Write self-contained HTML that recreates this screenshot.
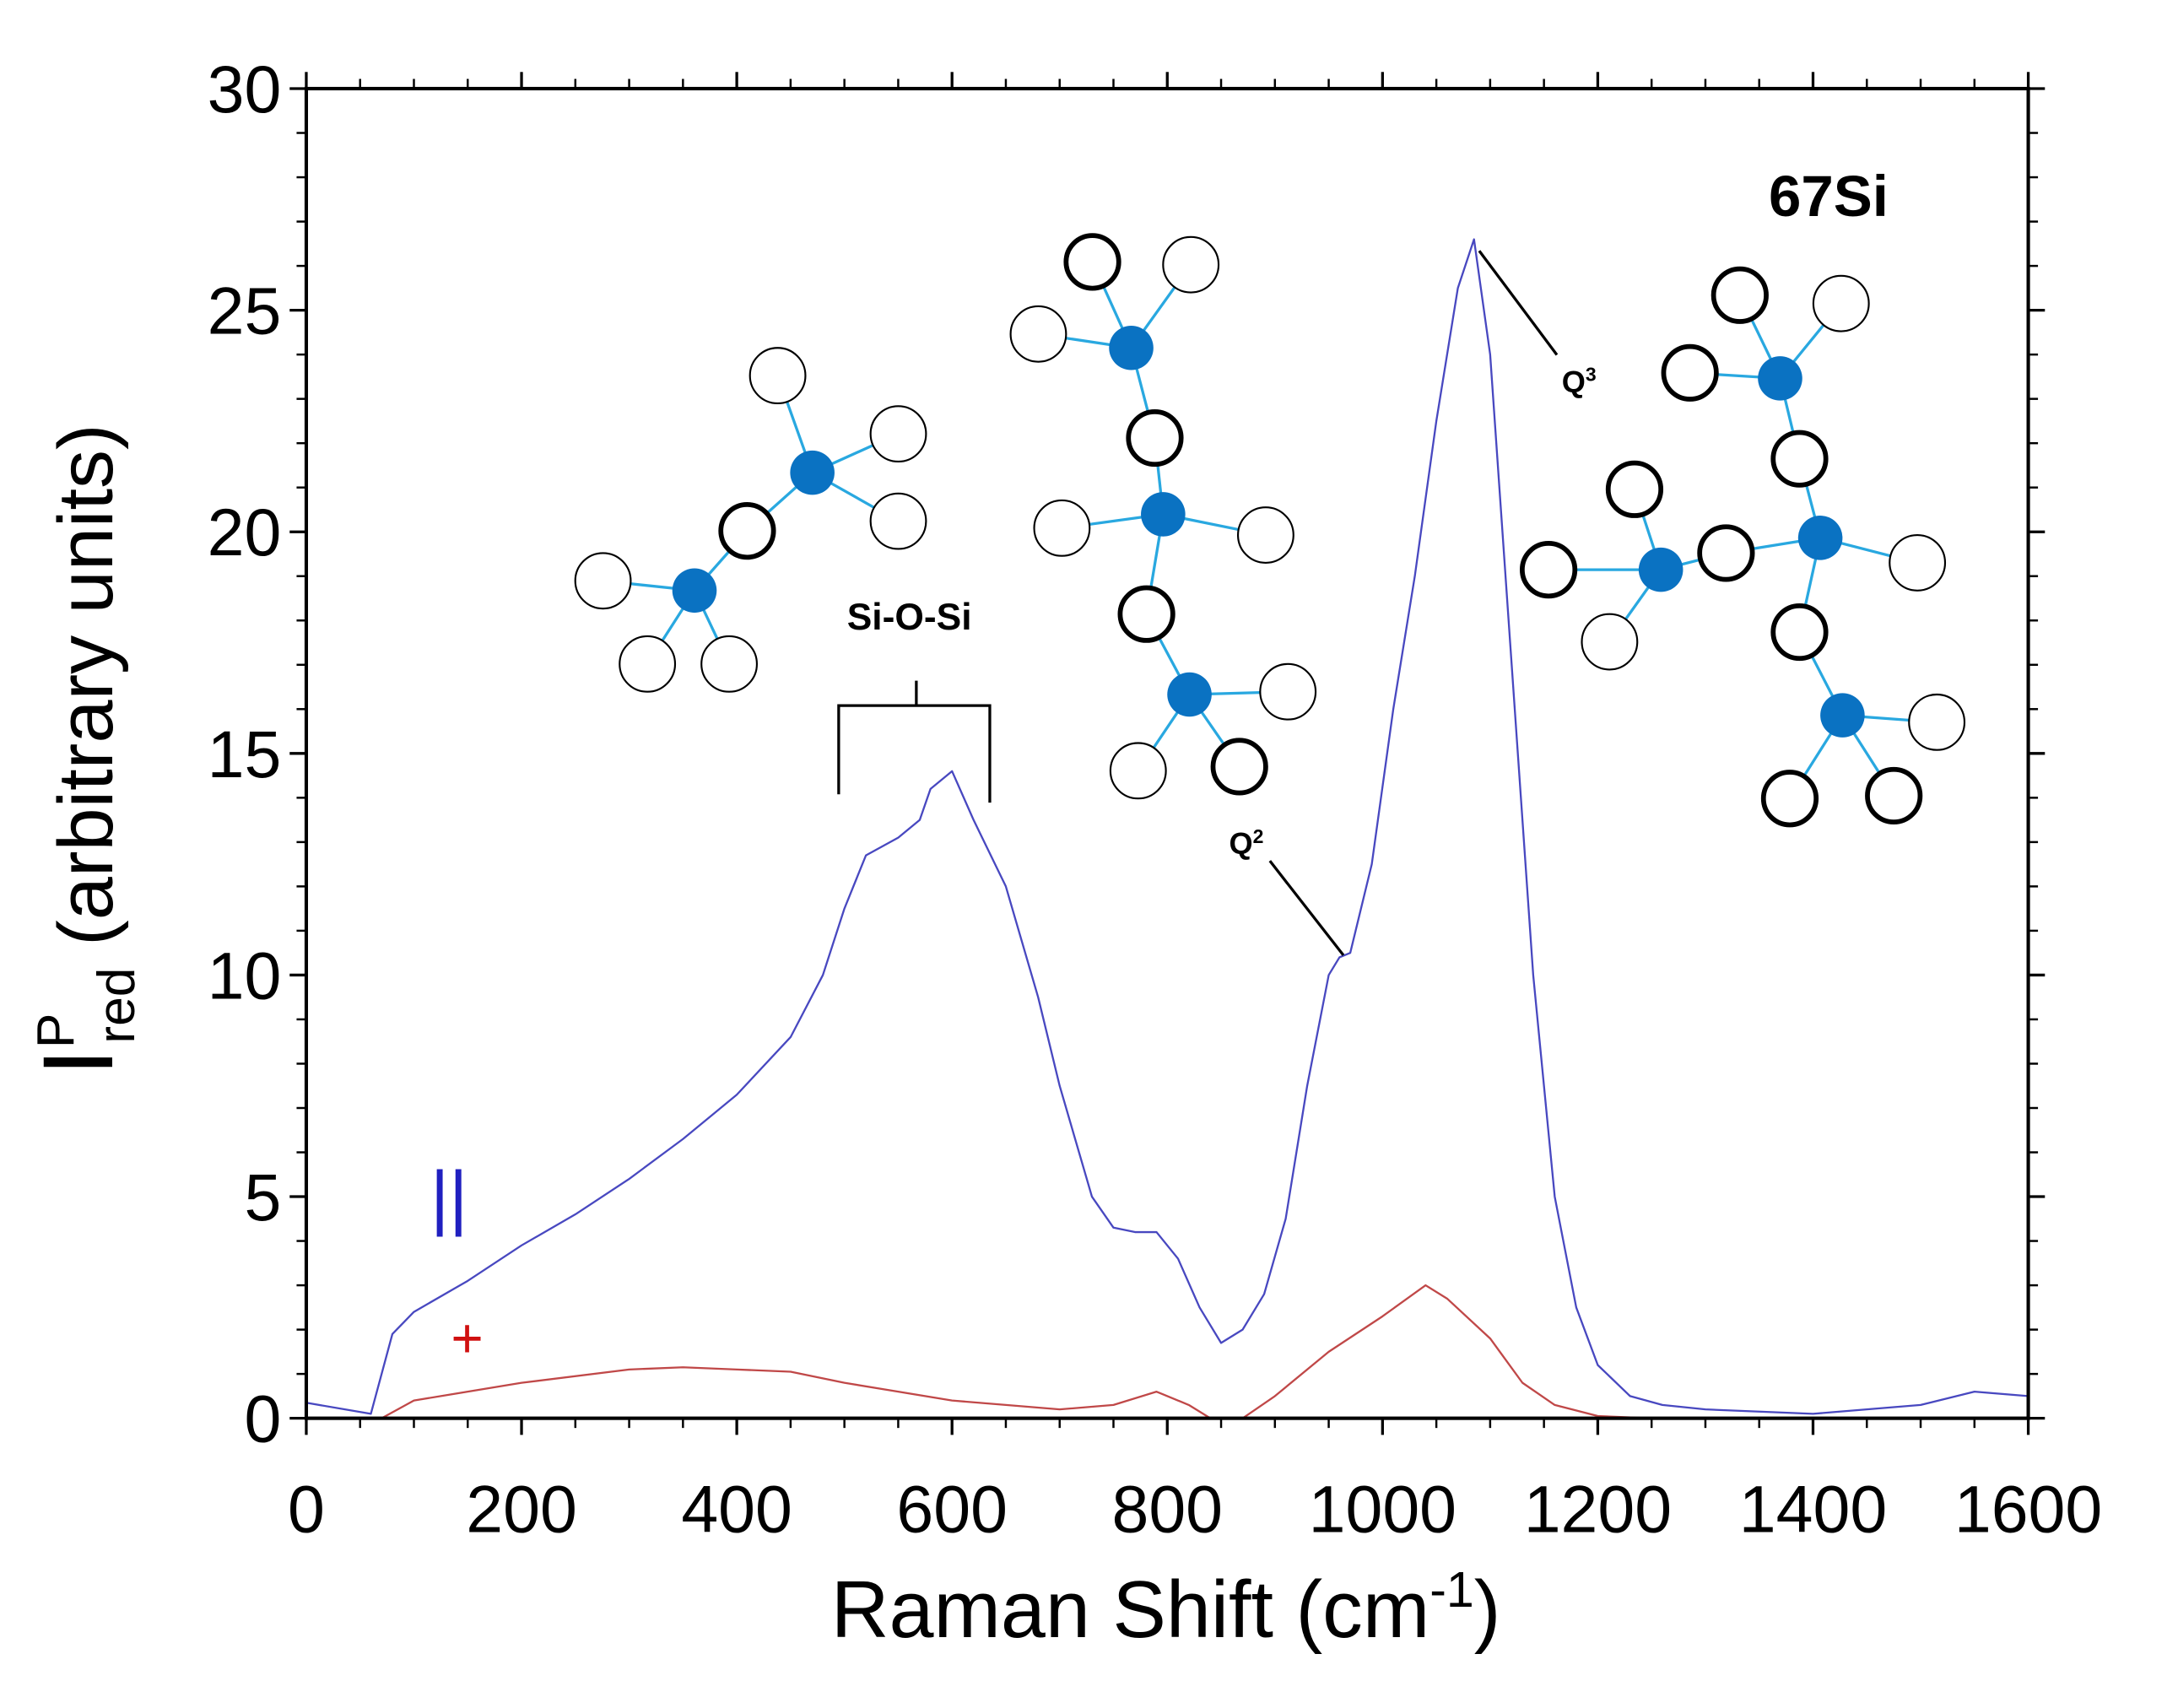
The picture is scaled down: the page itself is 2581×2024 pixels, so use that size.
<!DOCTYPE html>
<html><head><meta charset="utf-8"><style>
html,body{margin:0;padding:0;background:#fff;}
svg{display:block;}
text{font-family:"Liberation Sans",sans-serif;}
</style></head><body>
<svg id="chart" width="2581" height="2024" viewBox="0 0 2581 2024" xmlns="http://www.w3.org/2000/svg">
<g id="root" transform="translate(1.5,1.5) scale(1.643)">
<g id="molecules"></g>
<g id="marks"></g>
<g id="axes"></g>
<g id="annot">
  <text x="1318" y="155" font-size="42" font-weight="bold" text-anchor="middle">67Si</text>
  <text x="655" y="453" font-size="27" font-weight="bold" text-anchor="middle">Si-O-Si</text>
  <path d="M604,572 V508 H713 V578 M660,508 V490" fill="none" stroke="#000" stroke-width="2"/>
  <text x="898" y="615" font-size="22" font-weight="bold" text-anchor="middle">Q<tspan font-size="14" dy="-8">2</tspan></text>
  <line x1="915" y1="620" x2="968" y2="688" stroke="#000" stroke-width="2"/>
  <text x="1138" y="282" font-size="22" font-weight="bold" text-anchor="middle">Q<tspan font-size="14" dy="-8">3</tspan></text>
  <line x1="1066" y1="180" x2="1122" y2="255" stroke="#000" stroke-width="2"/>
  <text x="323" y="880" font-size="52" fill="#2020c0" text-anchor="middle">||</text>
  <text x="336" y="978" font-size="40" fill="#d01010" text-anchor="middle">+</text>
  <text x="840" y="1180" font-size="58" text-anchor="middle">Raman Shift (cm<tspan font-size="36" dy="-22">-1</tspan><tspan dy="22">)</tspan></text>
  <g transform="translate(80,540) rotate(-90)">
    <text x="0" y="0" font-size="56" text-anchor="middle"><tspan font-size="72">I</tspan><tspan font-size="38" dy="-28">P</tspan><tspan font-size="38" dx="-22" dy="44">red</tspan><tspan dy="-16"> (arbitrary units)</tspan></text>
  </g>
</g>
</g>
</svg>
<script>
const xTicks=[0,200,400,600,800,1000,1200,1400,1600];
const yTicks=[0,5,10,15,20,25,30];
const blueX=[0,60,80,100,150,200,250,300,350,400,450,480,500,520,550,570,580,600,620,650,680,700,730,750,770,790,810,830,850,870,890,910,930,950,960,970,990,1010,1030,1050,1070,1085,1100,1120,1140,1160,1180,1200,1230,1260,1300,1400,1500,1550,1600];
const blueY=[0.35,0.1,1.9,2.4,3.1,3.9,4.6,5.4,6.3,7.3,8.6,10,11.5,12.7,13.1,13.5,14.2,14.6,13.5,12,9.5,7.5,5,4.3,4.2,4.2,3.6,2.5,1.7,2,2.8,4.5,7.5,10,10.4,10.5,12.5,16,19,22.5,25.5,26.6,24,17,10,5,2.5,1.2,0.5,0.3,0.2,0.1,0.3,0.6,0.5];
const redX=[70,100,150,200,300,350,400,450,500,550,600,650,700,750,790,820,840,870,900,950,1000,1040,1060,1100,1130,1160,1200,1250,1600];
const redY=[0,0.4,0.6,0.8,1.1,1.15,1.1,1.05,0.8,0.6,0.4,0.3,0.2,0.3,0.6,0.3,0,0,0.5,1.5,2.3,3.0,2.7,1.8,0.8,0.3,0.05,0,0];
const NS="http://www.w3.org/2000/svg";
const L=220,R=1462,T=63,B=1022;
function sx(v){return L+(v-0)/(1600-0)*(R-L);}
function sy(v){return B-(v-0)/(30-0)*(B-T);}
function mk(tag,attrs,parent){const e=document.createElementNS(NS,tag);for(const k in attrs)e.setAttribute(k,attrs[k]);parent.appendChild(e);return e;}
const axes=document.getElementById('axes'), marks=document.getElementById('marks');
const frame=mk('rect',{x:L,y:T,width:R-L,height:B-T,fill:'none',stroke:'#000','stroke-width':2.5},axes);


for(let v=0;v<=1600;v+=50){
  const major=v%200===0, len=major?12:7;
  mk('line',{x1:sx(v),x2:sx(v),y1:B,y2:B+len,stroke:'#000','stroke-width':major?2:1.5},axes);
  mk('line',{x1:sx(v),x2:sx(v),y1:T,y2:T-len,stroke:'#000','stroke-width':major?2:1.5},axes);
}
for(const v of xTicks){
  const t=mk('text',{x:sx(v),y:B+82,'font-size':48,'text-anchor':'middle'},axes);
  t.textContent=v;
  
  
}
for(let v=0;v<=30;v+=1){
  const major=v%5===0, len=major?12:7;
  mk('line',{x1:L,x2:L-len,y1:sy(v),y2:sy(v),stroke:'#000','stroke-width':major?2:1.5},axes);
  mk('line',{x1:R,x2:R+len,y1:sy(v),y2:sy(v),stroke:'#000','stroke-width':major?2:1.5},axes);
}
for(const v of yTicks){
  const t=mk('text',{x:L-18,y:sy(v)+17,'font-size':48,'text-anchor':'end'},axes);
  t.textContent=v;
  
  
}
function line(xs,ys,color,name){
  const d=xs.map((x,i)=>(i?'L':'M')+sx(x).toFixed(2)+','+sy(ys[i]).toFixed(2)).join(' ');
  const p=mk('path',{d:d,fill:'none',stroke:color,'stroke-width':1.4,'stroke-linejoin':'round'},marks);
  
  
}
line(redX,redY,'#c04848','perpendicular-spectrum');
line(blueX,blueY,'#4848c0','parallel-spectrum');
const mol=document.getElementById('molecules');
const groups=[
 {si:[[500,425],[585,340]],thick:[[538,382]],thin:[[434,418],[466,478],[525,478],[560,270],[647,312],[647,375]],
  bonds:[[0,'k',0],[0,'t',0],[0,'t',1],[0,'t',2],[1,'k',0],[1,'t',3],[1,'t',4],[1,'t',5]]},
 {si:[[815,250],[838,370],[857,500]],thick:[[787,188],[832,315],[826,442],[893,552]],thin:[[858,190],[748,240],[765,380],[912,385],[928,498],[820,555]],
  bonds:[[0,'k',0],[0,'t',0],[0,'t',1],[0,'k',1],[1,'k',1],[1,'t',2],[1,'t',3],[1,'k',2],[2,'k',2],[2,'t',4],[2,'t',5],[2,'k',3]]},
 {si:[[1283,272],[1312,387],[1197,410],[1328,515]],thick:[[1254,212],[1297,330],[1218,268],[1178,352],[1244,398],[1116,410],[1297,455],[1290,575],[1365,573]],thin:[[1327,218],[1382,405],[1160,462],[1396,520]],
  bonds:[[0,'k',0],[0,'t',0],[0,'k',2],[0,'k',1],[1,'k',1],[1,'k',4],[1,'t',1],[1,'k',6],[2,'k',3],[2,'k',5],[2,'t',2],[2,'k',4],[3,'k',6],[3,'t',3],[3,'k',7],[3,'k',8]]}
];
groups.forEach((g,gi)=>{
  g.bonds.forEach(b=>{const a=g.si[b[0]],o=(b[1]==='k'?g.thick:g.thin)[b[2]];
    mk('line',{x1:a[0],y1:a[1],x2:o[0],y2:o[1],stroke:'#29a8e0','stroke-width':2},mol);});
  g.thin.forEach(c=>{const e=mk('circle',{cx:c[0],cy:c[1],r:20,fill:'#fff',stroke:'#000','stroke-width':1.3},mol);
    
    });
  g.thick.forEach(c=>{const e=mk('circle',{cx:c[0],cy:c[1],r:19,fill:'#fff',stroke:'#000','stroke-width':3.5},mol);
    
    });
  g.si.forEach(c=>{const e=mk('circle',{cx:c[0],cy:c[1],r:16,fill:'#0a72c2'},mol);
    
    });
});
</script>
</body></html>
